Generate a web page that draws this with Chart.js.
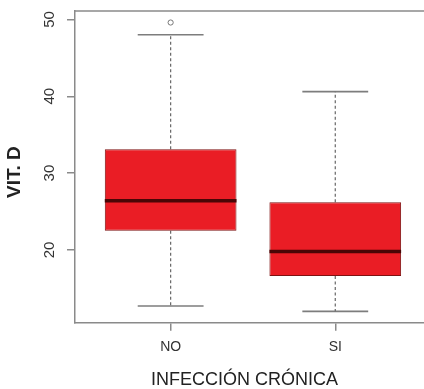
<!DOCTYPE html>
<html>
<head>
<meta charset="utf-8">
<script src="https://cdn.jsdelivr.net/npm/chart.js@4"></script>
<style>
html,body{margin:0;padding:0;background:#fff;overflow:hidden}
#wrap{width:424px;height:389px;position:relative}
canvas{display:block}
</style>
</head>
<body>
<div id="wrap"><canvas id="c"></canvas></div>
<script>
const categories = ['NO', 'SI'];
const q1 = [22.5, 16.6];
const medians = [26.4, 19.8];
const q3 = [33.1, 26.2];
const whiskerLow = [12.7, 12.0];
const whiskerHigh = [48.0, 40.6];
const outliers = [[49.6], []];
const yTicks = [20, 30, 40, 50];
const xTitle = 'INFECCIÓN CRÓNICA';
const yTitle = 'VIT. D';

const FONT = "'Liberation Sans', Arial, Helvetica, sans-serif";
const AXIS = '#8a8a8a';
const boxHalf = 0.4, capHalf = 0.2;

const datasets = [];
datasets.push({
  type: 'bar',
  data: categories.map((c, i) => ({ x: i + 1, y: [q1[i], q3[i]] })),
  backgroundColor: '#ea1d25',
  borderColor: '#7e1212',
  borderWidth: 1,
  borderSkipped: false,
  categoryPercentage: 0.8,
  barPercentage: 1,
  order: 2
});
categories.forEach((c, i) => {
  const x = i + 1;
  const lineBase = { type: 'line', pointRadius: 0, fill: false, tension: 0, borderCapStyle: 'butt' };
  datasets.push(Object.assign({}, lineBase, {
    data: [{ x: x, y: q3[i] }, { x: x, y: whiskerHigh[i] }],
    borderColor: '#666', borderWidth: 1.2, borderDash: [3, 2.5], order: 3
  }));
  datasets.push(Object.assign({}, lineBase, {
    data: [{ x: x, y: q1[i] }, { x: x, y: whiskerLow[i] }],
    borderColor: '#666', borderWidth: 1.2, borderDash: [3, 2.5], order: 3
  }));
  datasets.push(Object.assign({}, lineBase, {
    data: [{ x: x - capHalf, y: whiskerHigh[i] }, { x: x + capHalf, y: whiskerHigh[i] }],
    borderColor: '#7d7d7d', borderWidth: 1.6, order: 3
  }));
  datasets.push(Object.assign({}, lineBase, {
    data: [{ x: x - capHalf, y: whiskerLow[i] }, { x: x + capHalf, y: whiskerLow[i] }],
    borderColor: '#7d7d7d', borderWidth: 1.6, order: 3
  }));
  datasets.push(Object.assign({}, lineBase, {
    data: [{ x: x - boxHalf, y: medians[i] }, { x: x + boxHalf, y: medians[i] }],
    borderColor: '#4a0606', borderWidth: 3.5, order: 1
  }));
  if (outliers[i].length) {
    datasets.push({
      type: 'line', showLine: false,
      data: outliers[i].map(v => ({ x: x, y: v })),
      pointStyle: 'circle', pointRadius: 2.6,
      pointBorderColor: '#777', pointBackgroundColor: 'rgba(0,0,0,0)', pointBorderWidth: 1,
      order: 1
    });
  }
});

const frameTop = {
  id: 'frameTop',
  afterDraw(chart) {
    const { ctx, chartArea: a } = chart;
    ctx.save();
    ctx.strokeStyle = AXIS;
    ctx.lineWidth = 1.5;
    ctx.beginPath();
    ctx.moveTo(a.left, a.top);
    ctx.lineTo(a.right, a.top);
    ctx.stroke();
    ctx.restore();
  }
};

new Chart(document.getElementById('c'), {
  type: 'bar',
  data: { datasets },
  plugins: [frameTop],
  options: {
    responsive: true,
    maintainAspectRatio: false,
    animation: false,
    layout: { autoPadding: false, padding: { top: 11, right: 0, left: 0, bottom: 0 } },
    plugins: { legend: { display: false }, tooltip: { enabled: false } },
    scales: {
      x: {
        type: 'linear', min: 0.419, max: 2.539, offset: false, bounds: 'data',
        afterBuildTicks: s => { s.ticks = categories.map((c, i) => ({ value: i + 1 })); },
        afterFit: s => { s.height = 66.3; s.paddingLeft = 0; s.paddingRight = 0; },
        ticks: {
          callback: v => categories[Math.round(v) - 1] ?? '',
          font: { family: FONT, size: 14 }, color: '#333', padding: 8,
          maxRotation: 0, minRotation: 0, autoSkip: false
        },
        grid: { display: true, drawOnChartArea: false, drawTicks: true, tickLength: 8, color: AXIS, lineWidth: 1.5, offset: false },
        border: { display: true, color: AXIS, width: 1.5 },
        title: {
          display: true, text: xTitle + '  ', color: '#222',
          font: { family: FONT, size: 18, lineHeight: 1 },
          padding: { top: 0, bottom: 0 }
        }
      },
      y: {
        type: 'linear', min: 10.52, max: 51.1, bounds: 'data',
        afterBuildTicks: s => { s.ticks = yTicks.map(v => ({ value: v })); },
        afterFit: s => { s.width = 75; s.paddingTop = 0; s.paddingBottom = 0; },
        ticks: {
          font: { family: FONT, size: 15 }, color: '#333', padding: 9,
          minRotation: 90, maxRotation: 90, crossAlign: 'center'
        },
        grid: { display: true, drawOnChartArea: false, drawTicks: true, tickLength: 8, color: AXIS, lineWidth: 1.5 },
        border: { display: true, color: AXIS, width: 1.5 },
        title: {
          display: true, text: yTitle + '  ', color: '#222',
          font: { family: FONT, size: 19, weight: 'bold', lineHeight: 1 },
          padding: { top: 5.5, bottom: 0 }
        }
      }
    }
  }
});
</script>
</body>
</html>
